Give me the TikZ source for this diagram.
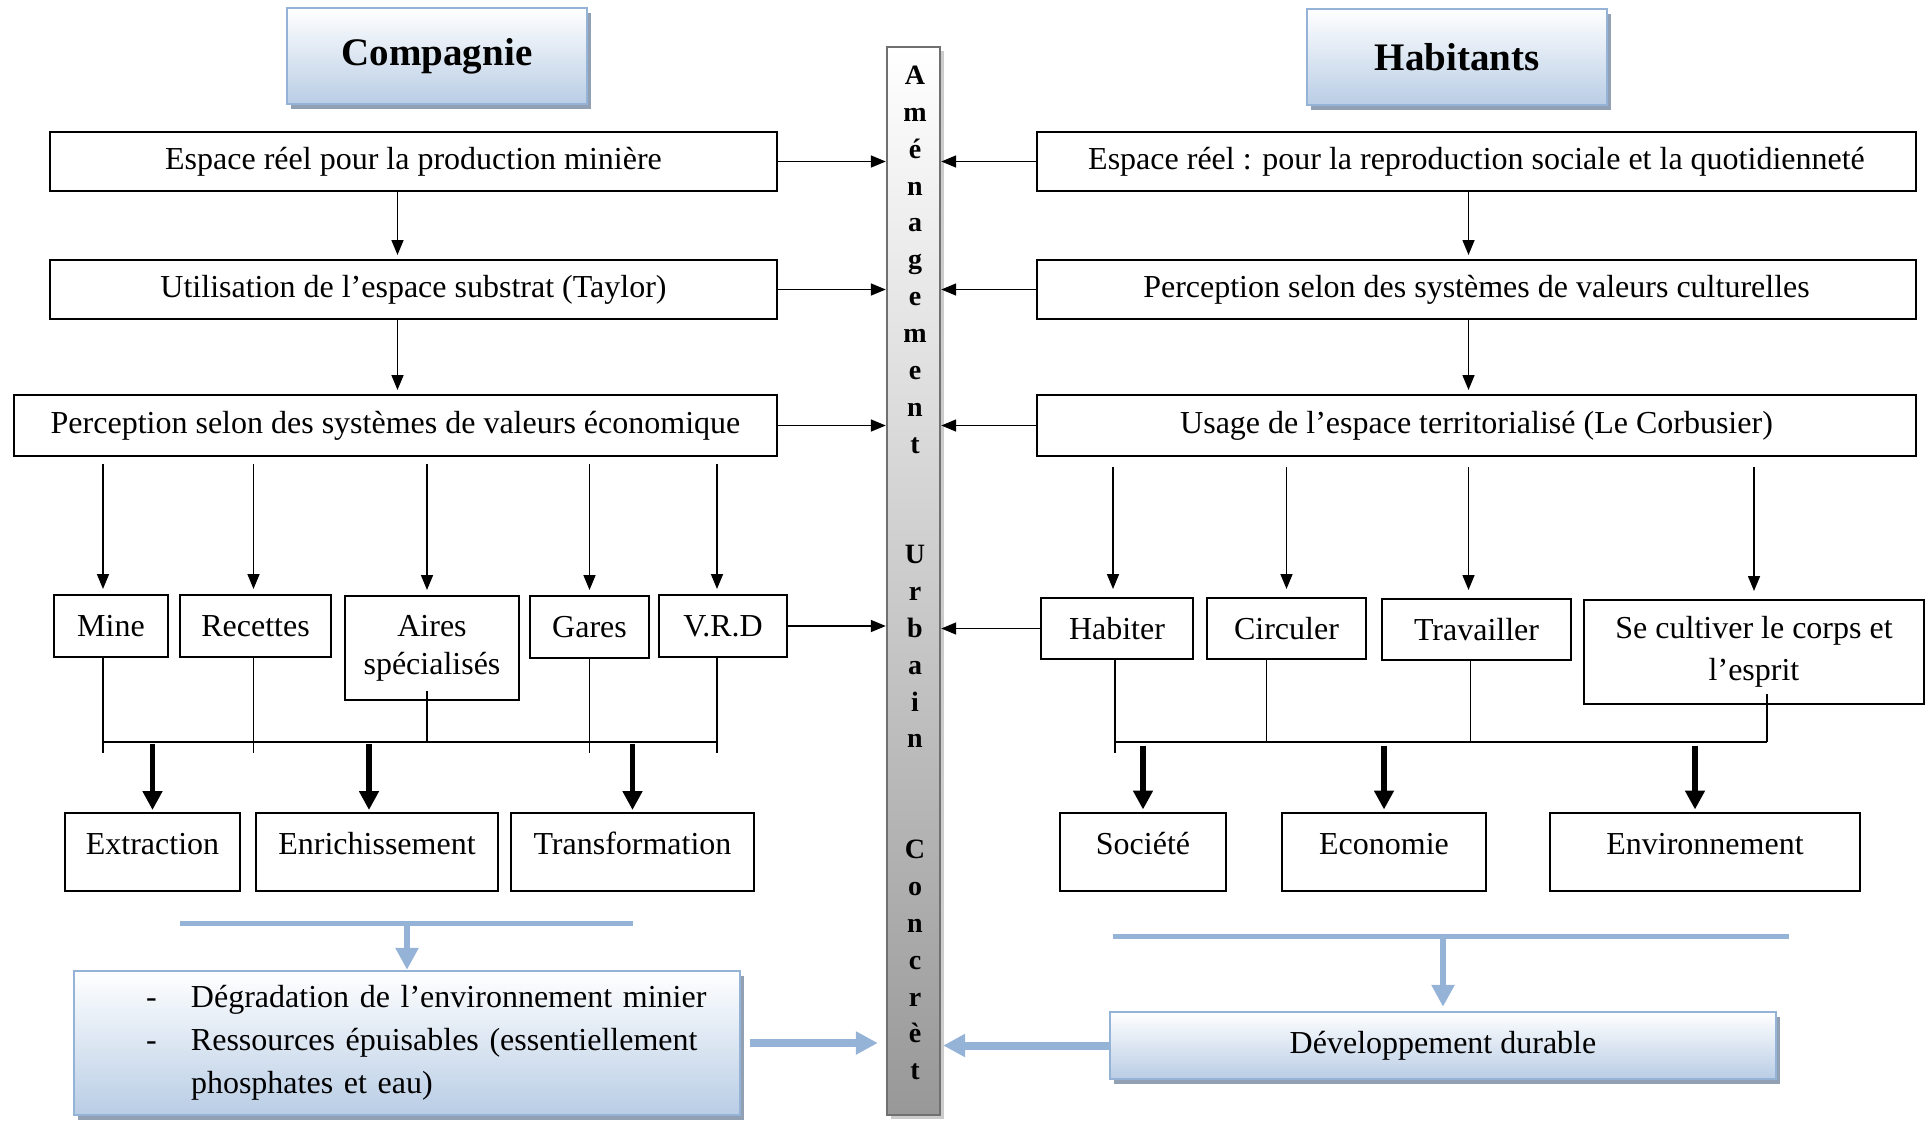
\documentclass[tikz,border=0pt]{standalone}
\usepackage{fontspec}
\setmainfont{Liberation Serif}
\usepackage{tikz}
\usetikzlibrary{arrows.meta, positioning, calc, shadows}
\definecolor{accentB}{RGB}{149, 179, 215}
\definecolor{shadeB}{RGB}{185, 205, 229}
\definecolor{shadowB}{RGB}{146, 160, 180}
\definecolor{barGray}{RGB}{152, 152, 152}
\definecolor{barEdge}{RGB}{112, 112, 112}

\begin{document}
\begin{tikzpicture}[
    x=0.5pt, y=-0.5pt,
    every node/.style={font=\fontsize{16pt}{19pt}\selectfont},
    box/.style={rectangle, draw=black, line width=1pt, inner sep=0pt, align=center},
    result/.style={box, text height=11pt, text depth=8.5pt, minimum height=39pt},
    title/.style={rectangle, draw=accentB, line width=1.2pt, top color=white, bottom color=shadeB, minimum width=150pt, minimum height=48pt, font=\fontsize{19.5pt}{22pt}\selectfont\bfseries, drop shadow={shadow xshift=2pt, shadow yshift=-2.5pt, fill=shadowB, opacity=1}},
    bluebox/.style={rectangle, draw=accentB, line width=1.2pt, top color=white, bottom color=shadeB, inner sep=0pt, minimum width=333pt, drop shadow={shadow xshift=2pt, shadow yshift=-2.5pt, fill=shadowB, opacity=1}},
    bar/.style={rectangle, draw=barEdge, line width=1.2pt, top color=white, bottom color=barGray, minimum width=26.5pt, minimum height=534pt, drop shadow={shadow xshift=2pt, shadow yshift=-2pt, fill=black!20, opacity=1}},
    arrowstyle/.style={-{Triangle[length=7.5pt,width=6pt]}, line width=0.8pt},
    bigarrow/.style={-{Triangle[length=9.5pt,width=9.5pt]}, line width=2.75pt, shorten >=1pt},
    link/.style={line width=0.6pt},
    busline/.style={line width=1pt},
    bluearrow/.style={-{Triangle[length=11pt,width=11pt]}, line width=4pt, draw=accentB},
    blueline/.style={line width=2.5pt, draw=accentB}
]
\useasboundingbox (0,0) rectangle (1932,1120);

\node[title] (comp) at (437,56) {Compagnie};
\node[title] (hab) at (1457,57) {Habitants};

\node[bar] (bar) at (913.5,581) {};
\node[font=\fontsize{14pt}{18.43pt}\selectfont\bfseries, align=center, inner sep=0pt] (barText) at (915,573)
  {A\\m\\é\\n\\a\\g\\e\\m\\e\\n\\t\\~\\~\\U\\r\\b\\a\\i\\n\\~\\~\\C\\o\\n\\c\\r\\è\\t};

\node[box, minimum width=363.5pt, minimum height=29.5pt] (L1) at (413.5,161.5) {Espace réel pour la production minière};
\node[box, minimum width=363.5pt, minimum height=29.5pt] (L2) at (413.5,289.5) {Utilisation de l’espace substrat (Taylor)};
\node[box, minimum width=381.5pt, minimum height=30.5pt] (L3) at (395.5,425.5) {Perception selon des systèmes de valeurs économique};

\node[box, minimum width=439.5pt, minimum height=29.5pt] (R1) at (1476.5,161.5) {Espace réel : pour la reproduction sociale et la quotidienneté};
\node[box, minimum width=439.5pt, minimum height=29.5pt] (R2) at (1476.5,289.5) {Perception selon des systèmes de valeurs culturelles};
\node[box, minimum width=439.5pt, minimum height=30.5pt] (R3) at (1476.5,425.5) {Usage de l’espace territorialisé (Le Corbusier)};

\node[box, minimum width=57pt, minimum height=31pt] (mine) at (111,626) {Mine};
\node[box, minimum width=75.5pt, minimum height=31pt] (rec) at (255.5,626) {Recettes};
\node[box, minimum width=87pt, minimum height=52pt] (aires) at (432,648) {Aires\\spécialisés};
\node[box, minimum width=59.5pt, minimum height=31pt] (gares) at (589.5,627) {Gares};
\node[box, minimum width=64pt, minimum height=31pt] (vrd) at (723,626) {V.R.D};

\node[box, minimum width=76pt, minimum height=30.5pt] (habiter) at (1117,628.5) {Habiter};
\node[box, minimum width=79.5pt, minimum height=30.5pt] (circuler) at (1286.5,628.5) {Circuler};
\node[box, minimum width=94.5pt, minimum height=30.5pt] (travailler) at (1476.5,629.5) {Travailler};
\node[box, minimum width=170pt, minimum height=52pt, font=\fontsize{16pt}{21pt}\selectfont] (cultiver) at (1754,652) {Se cultiver le corps et\\l’esprit};

\node[result, minimum width=87.5pt] (ext) at (152.5,852) {Extraction};
\node[result, minimum width=121pt] (enr) at (377,852) {Enrichissement};
\node[result, minimum width=121.5pt] (tra) at (632.5,852) {Transformation};

\node[result, minimum width=83pt] (soc) at (1143,851.5) {Société};
\node[result, minimum width=102pt] (eco) at (1384,851.5) {Economie};
\node[result, minimum width=155pt] (env) at (1705,851.5) {Environnement};

\node[bluebox, minimum height=72pt, text width=300pt, align=left, inner xsep=16.5pt, font=\fontsize{16pt}{21.5pt}\selectfont] (degr) at (407,1043)
  {\hspace*{19.5pt}\makebox[22.5pt][l]{-}Dégradation de l’environnement minier\\
   \hspace*{19.5pt}\makebox[22.5pt][l]{-}Ressources épuisables (essentiellement\\
   \hspace*{42pt}phosphates et eau)};
\node[bluebox, minimum height=33.5pt] (dev) at (1443,1045.5) {Développement durable};

\draw[arrowstyle, shorten >=2pt] ([xshift=-8pt]L1.south) -- ([xshift=-8pt]L1.south |- L2.north);
\draw[arrowstyle, shorten >=2pt] ([xshift=-8pt]L2.south) -- ([xshift=-8pt]L2.south |- L3.north);
\draw[arrowstyle, shorten >=2pt] ([xshift=-4pt]R1.south) -- ([xshift=-4pt]R1.south |- R2.north);
\draw[arrowstyle, shorten >=2pt] ([xshift=-4pt]R2.south) -- ([xshift=-4pt]R2.south |- R3.north);

\foreach \n in {L1,L2,L3,vrd}
  \draw[arrowstyle] (\n.east) -- (\n.east -| bar.west);
\foreach \n in {R1,R2,R3,habiter}
  \draw[arrowstyle] (\n.west) -- (\n.west -| bar.east);

\foreach \n/\s in {mine/-4,rec/-1,aires/-2.5,gares/0,vrd/-3}
  \draw[arrowstyle, shorten <=3.5pt, shorten >=2.5pt] ([xshift=\s pt]\n.north |- L3.south) -- ([xshift=\s pt]\n.north);
\foreach \n/\s in {habiter/-2,circuler/0,travailler/-4,cultiver/0}
  \draw[arrowstyle, shorten <=5pt, shorten >=4pt] ([xshift=\s pt]\n.north |- R3.south) -- ([xshift=\s pt]\n.north);

\coordinate (busL) at (103,742);
\coordinate (busR) at (717,742);
\draw[busline] (busL) -- (busR);
\foreach \n/\s in {mine/-4,rec/-1,gares/0,vrd/-3}
  \draw[link] ([xshift=\s pt]\n.south) -- ([xshift=\s pt, yshift=-5.5pt]\n.south |- busL);
\draw[link] ([xshift=-2.5pt, yshift=5pt]aires.south) -- ([xshift=-2.5pt]aires.south |- busL);

\coordinate (busH) at (1115,742);
\coordinate (busS) at (1767,742);
\draw[busline] (busH) -- (busS);
\draw[link] ([xshift=-1pt]habiter.south) -- ([xshift=-1pt, yshift=-5.5pt]habiter.south |- busH);
\draw[link] ([xshift=-10pt]circuler.south) -- ([xshift=-10pt]circuler.south |- busH);
\draw[link] ([xshift=-3pt]travailler.south) -- ([xshift=-3pt]travailler.south |- busH);
\draw[link] ([xshift=6.5pt, yshift=5.5pt]cultiver.south) -- ([xshift=6.5pt]cultiver.south |- busH);

\draw[bigarrow] ([yshift=-1pt]ext.north |- busL) -- (ext.north);
\draw[bigarrow] ([xshift=-4pt, yshift=-1pt]enr.north |- busL) -- ([xshift=-4pt]enr.north);
\draw[bigarrow] ([yshift=-1pt]tra.north |- busL) -- (tra.north);
\draw[bigarrow] ([yshift=-2pt]soc.north |- busH) -- (soc.north);
\draw[bigarrow] ([yshift=-2pt]eco.north |- busH) -- (eco.north);
\draw[bigarrow] ([xshift=-5pt, yshift=-2pt]env.north |- busH) -- ([xshift=-5pt]env.north);

\coordinate (bl1) at (180,923);
\coordinate (bl2) at (633,923);
\draw[blueline] (bl1) -- (bl2);
\draw[bluearrow, line width=3pt] (degr.north |- bl1) -- (degr.north);
\draw[bluearrow, shorten <=4.5pt, shorten >=4pt] (degr.east) -- (degr.east -| bar.west);

\coordinate (br1) at (1113,936);
\coordinate (br2) at (1789,936);
\draw[blueline] (br1) -- (br2);
\draw[bluearrow, line width=3pt, shorten >=2pt] (dev.north |- br1) -- (dev.north);
\draw[bluearrow, shorten >=1pt] (dev.west) -- (dev.west -| bar.east);
\end{tikzpicture}
\end{document}
